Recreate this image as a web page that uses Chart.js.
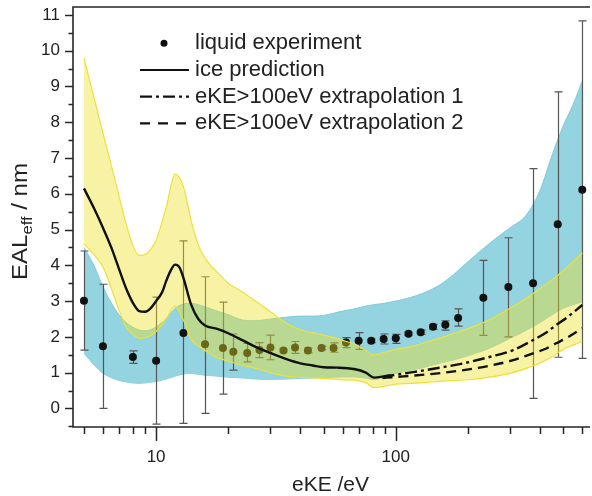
<!DOCTYPE html>
<html>
<head>
<meta charset="UTF-8">
<title>EAL eff vs eKE</title>
<script src="https://cdn.jsdelivr.net/npm/chart.js"></script>
<style>
  body { margin: 0; background: #fff; }
  #wrap { position: relative; width: 592px; height: 496px; }
</style>
</head>
<body>
<div id="wrap"><canvas id="chart"></canvas></div>
<script>
// shared x samples for the two uncertainty bands
const bandX = [5, 5.5, 6, 6.5, 7, 7.5, 8, 8.5, 9, 9.5, 10, 11, 12, 13, 14, 15, 16, 18, 20, 23, 26, 30, 35, 40, 45, 50, 55, 60, 67, 75, 81, 90, 100, 115, 130, 150, 175, 200, 250, 300, 350, 400, 450, 500, 550, 600];
const blueLow = [1.54, 1.22, 0.98, 0.86, 0.78, 0.74, 0.71, 0.70, 0.71, 0.73, 0.75, 0.82, 0.90, 0.96, 0.98, 0.95, 0.93, 0.90, 0.87, 0.85, 0.82, 0.81, 0.82, 0.84, 0.85, 0.86, 0.87, 0.88, 0.88, 0.84, 0.80, 0.88, 0.98, 1.06, 1.14, 1.25, 1.36, 1.47, 1.70, 1.96, 2.18, 2.40, 2.62, 2.80, 2.90, 2.98];
const blueHigh = [4.50, 4.00, 3.40, 2.95, 2.62, 2.40, 2.27, 2.19, 2.17, 2.20, 2.28, 2.50, 2.80, 2.92, 2.94, 2.90, 2.84, 2.72, 2.62, 2.47, 2.45, 2.50, 2.55, 2.58, 2.58, 2.60, 2.66, 2.72, 2.78, 2.86, 2.90, 2.94, 3.00, 3.10, 3.22, 3.42, 3.75, 4.10, 4.65, 5.05, 5.40, 6.10, 7.10, 7.90, 8.50, 9.15];
const yellowLow = [4.60, 4.30, 3.96, 3.36, 2.75, 2.28, 2.08, 1.96, 1.98, 2.04, 2.15, 2.50, 2.85, 2.47, 1.93, 1.75, 1.62, 1.42, 1.32, 1.20, 1.12, 1.00, 0.90, 0.87, 0.85, 0.84, 0.82, 0.80, 0.79, 0.72, 0.58, 0.62, 0.68, 0.70, 0.72, 0.75, 0.78, 0.80, 0.88, 0.98, 1.12, 1.27, 1.45, 1.65, 1.77, 1.88];
const yellowHigh = [9.79, 8.70, 7.70, 6.80, 5.95, 5.15, 4.55, 4.28, 4.30, 4.45, 4.70, 5.60, 6.55, 6.20, 5.25, 4.57, 4.20, 3.80, 3.50, 3.25, 3.00, 2.70, 2.38, 2.20, 2.12, 2.05, 1.98, 1.90, 1.80, 1.62, 1.49, 1.57, 1.65, 1.72, 1.82, 1.95, 2.10, 2.23, 2.50, 2.80, 3.08, 3.35, 3.60, 3.85, 4.10, 4.35];

// ice prediction
const iceX = [5, 5.5, 6, 6.5, 7, 7.5, 8, 8.5, 9, 9.5, 10, 10.6, 11, 11.5, 12, 12.5, 13, 14, 15, 16, 18, 20, 23, 26, 30, 35, 40, 45, 50, 57, 67, 75, 81, 90, 95];
const iceY = [6.15, 5.60, 5.05, 4.50, 3.90, 3.35, 2.95, 2.72, 2.70, 2.80, 3.00, 3.25, 3.55, 3.85, 4.02, 3.95, 3.65, 2.90, 2.50, 2.32, 2.22, 2.10, 1.90, 1.72, 1.55, 1.38, 1.26, 1.20, 1.15, 1.14, 1.10, 1.00, 0.86, 0.90, 0.93];

// extrapolations above 100 eV
const ext1X = [88, 100, 120, 150, 192, 250, 309, 374, 420, 467, 520, 600];
const ext1Y = [0.87, 0.94, 1.02, 1.13, 1.26, 1.45, 1.63, 1.91, 2.10, 2.33, 2.55, 2.89];
const ext2X = [88, 100, 120, 150, 192, 250, 309, 374, 420, 467, 520, 600];
const ext2Y = [0.85, 0.88, 0.92, 0.98, 1.07, 1.20, 1.35, 1.54, 1.66, 1.82, 1.98, 2.24];

// liquid experiment with error bar ends
const expX = [5, 6, 8, 10, 13, 16, 19, 21, 24, 27, 30, 34, 38, 43, 49, 55, 62, 70, 79, 89, 100, 113, 127, 143, 161, 182, 232, 295, 374, 474, 600];
const expY = [3.01, 1.74, 1.44, 1.33, 2.11, 1.79, 1.69, 1.58, 1.55, 1.63, 1.70, 1.62, 1.70, 1.62, 1.69, 1.69, 1.84, 1.89, 1.89, 1.94, 1.96, 2.09, 2.13, 2.28, 2.34, 2.53, 3.09, 3.39, 3.50, 5.15, 6.11];
const expHigh = [4.40, 3.47, 1.61, 3.11, 4.68, 3.68, 2.97, 2.08, 1.82, 1.84, 2.05, 1.66, 1.87, 1.69, 1.74, 1.83, 1.98, 2.12, 1.94, 2.08, 2.07, 2.13, 2.19, 2.35, 2.45, 2.78, 4.14, 4.77, 6.70, 8.85, 10.83];
const expLow = [1.63, 0.00, 1.26, -0.44, -0.42, -0.14, 0.40, 1.07, 1.30, 1.42, 1.36, 1.58, 1.54, 1.55, 1.64, 1.57, 1.70, 1.65, 1.84, 1.80, 1.82, 2.05, 2.07, 2.21, 2.19, 2.30, 2.04, 2.00, 0.28, 1.43, 1.40];

const yTicks = [0, 1, 2, 3, 4, 5, 6, 7, 8, 9, 10, 11];
const xTicks = [10, 100];
const xMinor = [5, 6, 7, 8, 9, 20, 30, 40, 50, 60, 70, 80, 90, 200, 300, 400, 500, 600];
const legendLabels = ['liquid experiment', 'ice prediction', 'eKE>100eV extrapolation 1', 'eKE>100eV extrapolation 2'];

const FONT = "'Liberation Sans', Arial, sans-serif";
const BLUE = 'rgb(148,211,224)';
const YELLOW = 'rgba(238,223,34,0.41)';

const pts = (xs, ys) => xs.map((v, i) => ({ x: v, y: ys[i] }));

const decor = {
  id: 'decor',
  beforeDatasetDraw(chart, args) {
    if (args.index !== 2) return;
    const { ctx, chartArea: a, scales: { x, y } } = chart;
    ctx.save();
    ctx.beginPath();
    ctx.rect(a.left, a.top, a.right - a.left, a.bottom - a.top);
    ctx.clip();
    ctx.strokeStyle = '#555';
    ctx.lineWidth = 1.2;
    expX.forEach((v, i) => {
      const px = Math.round(x.getPixelForValue(v)) + 0.5;
      const t = y.getPixelForValue(expHigh[i]);
      const b = y.getPixelForValue(expLow[i]);
      ctx.beginPath();
      ctx.moveTo(px, t); ctx.lineTo(px, b);
      ctx.moveTo(px - 4, t); ctx.lineTo(px + 4, t);
      ctx.moveTo(px - 4, b); ctx.lineTo(px + 4, b);
      ctx.stroke();
    });
    ctx.restore();
  },
  afterDraw(chart) {
    const { ctx, chartArea: a, scales: { x, y } } = chart;
    ctx.save();
    // frame (left, top, bottom)
    ctx.strokeStyle = '#262626';
    ctx.lineWidth = 1.6;
    ctx.beginPath();
    ctx.moveTo(a.right + 2, a.top); ctx.lineTo(a.left, a.top); ctx.lineTo(a.left, a.bottom); ctx.lineTo(a.right + 2, a.bottom);
    ctx.stroke();

    // tick marks, outside
    ctx.lineWidth = 1.5;
    ctx.beginPath();
    for (let v = -0.5; v <= 11; v += 0.5) {
      const py = Math.round(y.getPixelForValue(v)) + 0.5;
      const len = Number.isInteger(v) ? 8 : 4.5;
      ctx.moveTo(a.left, py); ctx.lineTo(a.left - len, py);
    }
    xTicks.forEach(v => {
      const px = Math.round(x.getPixelForValue(v)) + 0.5;
      ctx.moveTo(px, a.bottom); ctx.lineTo(px, a.bottom + 14);
    });
    xMinor.forEach(v => {
      const px = Math.round(x.getPixelForValue(v)) + 0.5;
      ctx.moveTo(px, a.bottom); ctx.lineTo(px, a.bottom + 7);
    });
    ctx.stroke();

    // axis titles
    ctx.fillStyle = '#222';
    ctx.textBaseline = 'alphabetic';
    ctx.textAlign = 'center';
    ctx.font = '21px ' + FONT;
    ctx.fillText('eKE /eV', (a.left + a.right) / 2, 490.5);

    ctx.save();
    ctx.translate(27, 280);
    ctx.rotate(-Math.PI / 2);
    ctx.textAlign = 'left';
    ctx.font = '22px ' + FONT;
    const w1 = ctx.measureText('EAL').width;
    const w3 = ctx.measureText(' / nm').width;
    ctx.font = '15px ' + FONT;
    const w2 = ctx.measureText('eff').width;
    const k = 117 / (w1 + w2 + w3);
    ctx.scale(k, 1);
    ctx.font = '22px ' + FONT;
    ctx.fillText('EAL', 0, 0);
    ctx.font = '15px ' + FONT;
    ctx.fillText('eff', w1, 5);
    ctx.font = '22px ' + FONT;
    ctx.fillText(' / nm', w1 + w2, 0);
    ctx.restore();

    // legend
    const rows = [43.3, 70, 96.7, 123.3];
    ctx.fillStyle = '#111';
    ctx.beginPath();
    ctx.arc(164, rows[0], 3.5, 0, Math.PI * 2);
    ctx.fill();
    ctx.strokeStyle = '#111';
    ctx.lineWidth = 2.2;
    const dashes = [[], [12, 4, 3, 4], [10, 8]];
    dashes.forEach((d, i) => {
      ctx.setLineDash(d);
      ctx.beginPath();
      ctx.moveTo(140, rows[i + 1]); ctx.lineTo(189, rows[i + 1]);
      ctx.stroke();
    });
    ctx.setLineDash([]);
    ctx.fillStyle = '#222';
    ctx.textAlign = 'left';
    ctx.textBaseline = 'middle';
    ctx.font = '22px ' + FONT;
    legendLabels.forEach((t, i) => ctx.fillText(t, 195, rows[i]));
    ctx.restore();
  }
};

const lineBase = { pointRadius: 0, cubicInterpolationMode: 'monotone' };

new Chart(document.getElementById('chart'), {
  type: 'line',
  data: {
    datasets: [
      { ...lineBase, data: pts(bandX, blueLow), borderColor: 'rgba(120,200,215,0.9)', borderWidth: 1, fill: false, order: 10 },
      { ...lineBase, data: pts(bandX, blueHigh), borderColor: 'rgba(120,200,215,0.9)', borderWidth: 1, backgroundColor: BLUE, fill: 0, order: 9 },
      { data: pts(expX, expY), showLine: false, pointRadius: 4, pointBackgroundColor: '#111', pointBorderColor: '#111', pointBorderWidth: 0, order: 8 },
      { ...lineBase, data: pts(bandX, yellowLow), borderColor: '#ece23a', borderWidth: 1.2, fill: false, order: 7 },
      { ...lineBase, data: pts(bandX, yellowHigh), borderColor: '#ece23a', borderWidth: 1.2, backgroundColor: YELLOW, fill: 3, order: 6 },
      { ...lineBase, data: pts(iceX, iceY), borderColor: '#111', borderWidth: 2.4, fill: false, order: 3 },
      { ...lineBase, data: pts(ext1X, ext1Y), borderColor: '#111', borderWidth: 2.4, borderDash: [12, 4, 3, 4], fill: false, order: 2 },
      { ...lineBase, data: pts(ext2X, ext2Y), borderColor: '#111', borderWidth: 2.4, borderDash: [10, 6], fill: false, order: 1 }
    ]
  },
  options: {
    responsive: true,
    maintainAspectRatio: false,
    animation: false,
    layout: { padding: { top: 7, right: 0, left: 0, bottom: 0 } },
    plugins: { legend: { display: false }, tooltip: { enabled: false } },
    scales: {
      x: {
        type: 'logarithmic',
        min: 4.5,
        max: 634,
        grid: { display: false, drawTicks: false },
        border: { display: false },
        afterBuildTicks: s => { s.ticks = xTicks.map(v => ({ value: v })); },
        afterFit: s => { s.height = 69; s.paddingLeft = 0; s.paddingRight = 0; },
        ticks: { color: '#222', font: { family: FONT, size: 17 }, padding: 20, maxRotation: 0, callback: v => String(v) }
      },
      y: {
        type: 'linear',
        min: -0.52,
        max: 11.22,
        grid: { display: false, drawTicks: false },
        border: { display: false },
        afterBuildTicks: s => { s.ticks = yTicks.map(v => ({ value: v })); },
        afterFit: s => { s.width = 73; s.paddingTop = 0; s.paddingBottom = 0; },
        ticks: { color: '#222', font: { family: FONT, size: 17 }, padding: 13, callback: v => String(v) }
      }
    }
  },
  plugins: [decor]
});
</script>
</body>
</html>
